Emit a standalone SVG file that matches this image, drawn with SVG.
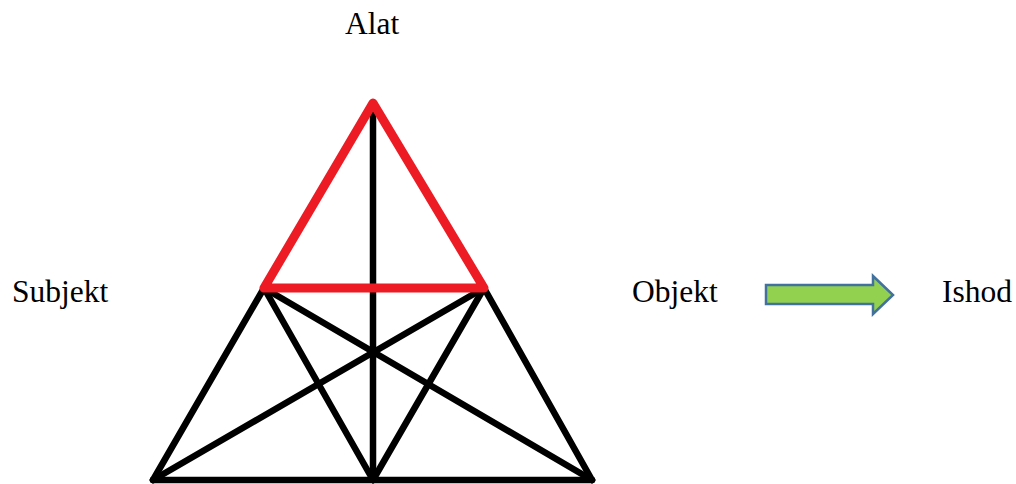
<svg xmlns="http://www.w3.org/2000/svg" width="1016" height="484" viewBox="0 0 1016 484">
<style>
.lbl{font-family:"Liberation Serif","Times New Roman",serif;font-size:31.5px;fill:#000}
.blk{stroke:#000;stroke-width:6.5;stroke-linecap:round;fill:none}
.red{stroke:#ED1C24;stroke-width:9;stroke-linecap:round;stroke-linejoin:round;fill:none}
</style>
<rect width="1016" height="484" fill="#fff"/>
<g id="connectors">
<line class="blk" x1="373" y1="103" x2="373" y2="480"/>
<line class="blk" x1="153" y1="480" x2="592" y2="480"/>
<line class="blk" x1="264" y1="288" x2="153" y2="480"/>
<line class="blk" x1="484" y1="288" x2="592" y2="480"/>
<line class="blk" x1="264" y1="288" x2="373" y2="480"/>
<line class="blk" x1="264" y1="288" x2="592" y2="480"/>
<line class="blk" x1="484" y1="288" x2="153" y2="480"/>
<line class="blk" x1="484" y1="288" x2="373" y2="480"/>
<polygon class="red" points="373,103 264,288 484,288"/>
</g>
<g id="alat"><text class="lbl" x="345" y="34">Alat</text></g>
<g id="subjekt"><text class="lbl" x="12" y="302">Subjekt</text></g>
<g id="objekt"><text class="lbl" x="632" y="302">Objekt</text></g>
<g id="arrow"><polygon points="766,285 873,285 873,276 893,295 873,314 873,304 766,304" fill="#92D050" stroke="#41719C" stroke-width="2.5" stroke-linejoin="miter"/></g>
<g id="ishod"><text class="lbl" x="942" y="302">Ishod</text></g>
</svg>
